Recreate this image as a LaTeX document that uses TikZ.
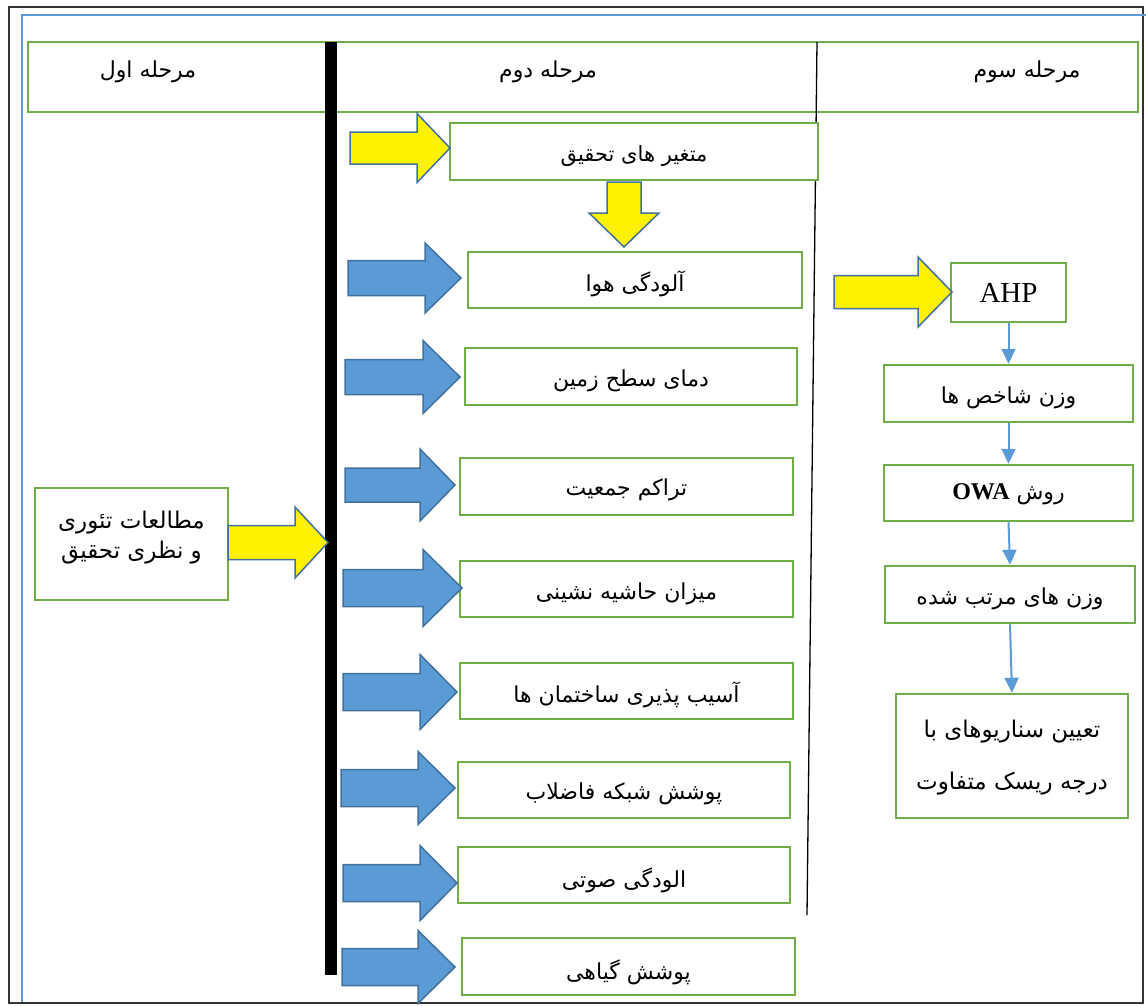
\documentclass[tikz,border=0pt]{standalone}
\usepackage{fontspec}
\setmainfont{Liberation Serif}
\newfontfamily\arabicfont[Script=Arabic]{DejaVu Sans}
\TeXXeTstate=1
\usetikzlibrary{arrows.meta}
\definecolor{boxgreen}{HTML}{70AD47}
\definecolor{conblue}{HTML}{5B9BD5}
\definecolor{arrowline}{HTML}{41719C}
\definecolor{frameblue}{HTML}{5B9BD5}
\definecolor{framedark}{HTML}{333333}
\newcommand\fa[1]{{\arabicfont\beginR #1\endR}}
% block arrow: style, x-left, x-neck, x-tip, y-centre, body half, head half
\newcommand\blockarrow[7]{%
  \draw[#1] (#2,#5-#6) -- (#3,#5-#6) -- (#3,#5-#7) -- (#4,#5) -- (#3,#5+#7) -- (#3,#5+#6) -- (#2,#5+#6) -- cycle;}
\tikzset{
  gbox/.style={draw=boxgreen, line width=2.5pt, fill=white, inner sep=0pt, align=center, font=\fontsize{22}{27}\selectfont},
  btext/.style={inner sep=0pt, align=center, font=\fontsize{22}{27}\selectfont},
  bluearrow/.style={fill=conblue, draw=arrowline, line width=1.5pt, line join=miter},
  yellowarrow/.style={fill=yellow, draw=arrowline, line width=1.5pt, line join=miter},
  conn/.style={draw=conblue, line width=2pt, -{Triangle[width=14pt,length=15pt]}},
  hdr/.style={font=\fontsize{22}{26}\selectfont, inner sep=0pt}
}
\begin{document}
\begin{tikzpicture}[x=1pt,y=-1pt]
\useasboundingbox (0,0) rectangle (1146,1005);
% frames
\draw[framedark, line width=2.5pt] (9,7) rectangle (1143,1003);
\draw[frameblue, line width=2.5pt] (22,1002) -- (22,15) -- (1146,15);
% header
\node[gbox, minimum width=1110pt, minimum height=70pt] (header) at (583,77) {};
\node[hdr] (h1) at (148,72) {\fa{مرحله اول}};
\node[hdr] (h2) at (548,72) {\fa{مرحله دوم}};
\node[hdr] (h3) at (1027,72) {\fa{مرحله سوم}};
% separators
\draw[line width=12pt] (331,42) -- (331,975);
\draw[line width=1.3pt] (817,42) -- (807,915);
% column 1
\node[gbox, minimum width=193pt, minimum height=112pt] (theory) at (131.5,544) {};
\node[btext, font=\fontsize{23}{28}\selectfont] (theoryt) at (131.5,538)
  {\fa{مطالعات تئوری}\\[2pt]\fa{و نظری تحقیق}};
\blockarrow{yellowarrow}{228}{295}{328}{542.5}{17}{35.5}
% column 2
\node[gbox, minimum width=368pt, minimum height=57pt] (vars) at (634,151.5) {};
\node[btext, font=\fontsize{21}{26}\selectfont] (varst) at (634,156) {\fa{متغیر های تحقیق}};
\draw[yellowarrow] (607,182) -- (641,182) -- (641,213) -- (659,213) -- (624,247) -- (589,213) -- (607,213) -- cycle;
\blockarrow{yellowarrow}{350}{417}{450}{148}{16}{34.5}
\node[gbox, minimum width=334pt, minimum height=56pt] (b1) at (635,280) {};
\node[btext] (b1t) at (635,284) {\fa{آلودگی هوا}};
\node[gbox, minimum width=332pt, minimum height=57pt] (b2) at (631,376.5) {};
\node[btext] (b2t) at (631,381) {\fa{دمای سطح زمین}};
\node[gbox, minimum width=333pt, minimum height=57pt] (b3) at (626.5,486.5) {};
\node[btext] (b3t) at (626.5,490) {\fa{تراکم جمعیت}};
\node[gbox, minimum width=333pt, minimum height=56pt] (b4) at (626.5,589) {};
\node[btext] (b4t) at (626.5,594) {\fa{میزان حاشیه نشینی}};
\node[gbox, minimum width=333pt, minimum height=56pt] (b5) at (626.5,691) {};
\node[btext] (b5t) at (626.5,695) {\fa{آسیب پذیری ساختمان ها}};
\node[gbox, minimum width=332pt, minimum height=56pt] (b6) at (624,790) {};
\node[btext] (b6t) at (624,794) {\fa{پوشش شبکه فاضلاب}};
\node[gbox, minimum width=332pt, minimum height=56pt] (b7) at (624,875) {};
\node[btext] (b7t) at (624,880) {\fa{الودگی صوتی}};
\node[gbox, minimum width=333pt, minimum height=57pt] (b8) at (628.5,966.5) {};
\node[btext] (b8t) at (628.5,972) {\fa{پوشش گیاهی}};
\blockarrow{bluearrow}{348}{425}{461}{278}{17.5}{35}
\blockarrow{bluearrow}{345}{423}{460}{377}{17.5}{36.5}
\blockarrow{bluearrow}{345}{420}{455}{485}{17}{36}
\blockarrow{bluearrow}{343}{423}{462}{588}{18.5}{38.5}
\blockarrow{bluearrow}{343}{420}{457}{692}{18.5}{37.5}
\blockarrow{bluearrow}{341}{418}{455}{788}{18.5}{36.5}
\blockarrow{bluearrow}{343}{420}{457}{883}{18.5}{37.5}
\blockarrow{bluearrow}{342}{418}{455}{967}{18.5}{36.5}
% column 3
\node[gbox, minimum width=115pt, minimum height=59pt, font=\fontsize{29}{32}\selectfont] (ahp) at (1008.5,292.5) {AHP};
\blockarrow{yellowarrow}{834}{918}{952}{292}{16.5}{35}
\node[gbox, minimum width=249pt, minimum height=57pt] (w1) at (1008.5,393.5) {};
\node[btext] (w1t) at (1008.5,398) {\fa{وزن شاخص ها}};
\node[gbox, minimum width=249pt, minimum height=56pt] (owa) at (1008.5,493) {};
\node[btext] (owat) at (1008.5,494)
  {\fa{روش {\fontsize{24}{28}\selectfont\rmfamily\bfseries\beginL OWA\endL}}};
\node[gbox, minimum width=250pt, minimum height=57pt] (w2) at (1010,594.5) {};
\node[btext] (w2t) at (1010,599) {\fa{وزن های مرتب شده}};
\node[gbox, minimum width=232pt, minimum height=124pt] (fin) at (1012,756) {};
\node[btext, font=\fontsize{23}{28}\selectfont] (fint) at (1012,758)
  {\fa{تعیین سناریوهای با}\\[24pt]\fa{درجه ریسک متفاوت}};
\draw[conn] (ahp.south) -- (w1.north);
\draw[conn] (w1.south) -- (owa.north);
\draw[conn] (owa.south) -- (w2.north);
\draw[conn] (w2.south) -- (fin.north);
\end{tikzpicture}
\end{document}
